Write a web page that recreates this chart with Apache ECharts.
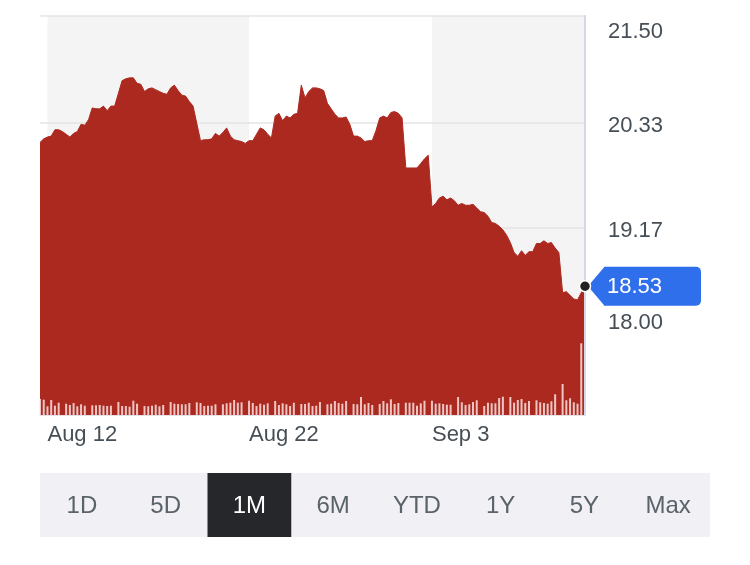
<!DOCTYPE html>
<html>
<head>
<meta charset="utf-8">
<script src="https://cdn.jsdelivr.net/npm/echarts@6/dist/echarts.min.js"></script>
<style>
  html, body { margin: 0; padding: 0; background: #ffffff; }
  #chart { width: 750px; height: 565px; }
</style>
</head>
<body>
<div id="chart"></div>
<script>
// ---- Data ----
const days = ['Aug 12','Aug 13','Aug 14','Aug 15','Aug 16','Aug 19','Aug 20','Aug 21','Aug 22','Aug 23',
              'Aug 26','Aug 27','Aug 28','Aug 29','Aug 30','Sep 3','Sep 4','Sep 5','Sep 6','Sep 9','Sep 10'];
const slotTimes = ['9:30','10:30','11:30','12:30','13:30','14:30','15:30'];

// price, one row per trading day (7 hourly points)
const prices = [
  20.11, 20.15, 20.17, 20.18, 20.25, 20.25, 20.23,
  20.20, 20.17, 20.21, 20.23, 20.31, 20.30, 20.36,
  20.49, 20.48, 20.48, 20.51, 20.46, 20.51, 20.51,
  20.65, 20.79, 20.81, 20.82, 20.82, 20.76, 20.75,
  20.67, 20.70, 20.71, 20.69, 20.67, 20.65, 20.64,
  20.71, 20.74, 20.68, 20.63, 20.62, 20.56, 20.51,
  20.32, 20.13, 20.14, 20.14, 20.15, 20.21, 20.18,
  20.22, 20.27, 20.18, 20.14, 20.13, 20.12, 20.10,
  20.13, 20.13, 20.20, 20.27, 20.25, 20.20, 20.16,
  20.40, 20.43, 20.35, 20.40, 20.38, 20.42, 20.43,
  20.74, 20.60, 20.67, 20.71, 20.71, 20.70, 20.68,
  20.54, 20.48, 20.42, 20.38, 20.38, 20.39, 20.31,
  20.18, 20.18, 20.16, 20.12, 20.13, 20.13, 20.24,
  20.38, 20.40, 20.38, 20.44, 20.45, 20.43, 20.38,
  19.83, 19.83, 19.83, 19.83, 19.88, 19.93, 19.97,
  19.40, 19.44, 19.50, 19.52, 19.48, 19.50, 19.47,
  19.42, 19.44, 19.42, 19.42, 19.43, 19.39, 19.35,
  19.34, 19.30, 19.23, 19.22, 19.19, 19.15, 19.09,
  19.01, 18.90, 18.86, 18.92, 18.87, 18.91, 18.91,
  19.00, 19.00, 19.03, 19.00, 19.01, 18.95, 18.90,
  18.46, 18.47, 18.43, 18.39, 18.38, 18.46, 18.53
];

// volume (thousands), one row per trading day
const volumes = [
  160, 153,  87, 150,  93, 123, null,
  113, 100, 120,  87, 107,  93, null,
   97,  97, 100,  93,  90,  93, null,
  130,  90,  90,  83, 143, 113, null,
   90,  87,  93, 103,  87, 100, null,
  130, 113, 110, 107, 107, 120, null,
  127, 120,  90,  93,  93, 107, null,
  107, 117, 123, 150, 123, 127, null,
  143, 120,  90, 113, 103, 117, null,
  140, 100, 117, 107,  90, 123, null,
  110, 110, 123,  90,  93, 130, null,
  107, 113, 140, 120, 113, 140, null,
  110, 107, 180, 107, 120, 100, null,
  110, 140, 117, 157, 110, 120, null,
  123, 123, 123,  93, 117, 143, null,
  143, 113, 117, 110, 103, 103, null,
  180, 127, 100, 107, 130, 147, null,
   90, 123, 117, 117, 170, 183, null,
  180, 123, 150, 160, 120, 140, null,
  147, 127, 120, 113, 137, 207, null,
  310, 147, 167, 127, 113, 717, 120
];

const yTicks = [21.50, 20.33, 19.17, 18.00];
const xTicks = ['Aug 12 11:30', 'Aug 22 9:30', 'Sep 3 9:30'];
const ranges = ['1D', '5D', '1M', '6M', 'YTD', '1Y', '5Y', 'Max'];
const selectedRange = '1M';
const lastPrice = 18.53;

// ---- Chart ----
const RED = '#ac2920';
const TEXT = '#464e56';
const FONT = 'Liberation Sans, Arial, sans-serif';
const categories = days.flatMap(d => slotTimes.map(t => d + ' ' + t));
const yMax = Math.max(...yTicks), yMin = Math.min(...yTicks);

const chart = echarts.init(document.getElementById('chart'), null, { renderer: 'canvas' });

const bandData = [];
const bandEdges = xTicks.concat([categories[categories.length - 1]]);
for (let i = 0; i + 1 < bandEdges.length; i += 2) {
  bandData.push([{ xAxis: bandEdges[i] }, { xAxis: bandEdges[i + 1] }]);
}

const labelTok = { fontSize: 22, fontFamily: FONT, color: TEXT };

const option = {
  animation: false,
  textStyle: { fontFamily: FONT },
  grid: { left: 40, top: 16, width: 545, height: 399, containLabel: false, outerBoundsMode: 'none' },
  xAxis: {
    type: 'category',
    data: categories,
    boundaryGap: false,
    z: 10,
    axisLine: { show: true, lineStyle: { color: '#e2e2e8', width: 1 } },
    axisTick: { show: false },
    splitLine: { show: false },
    axisLabel: {
      interval: (i, v) => xTicks.includes(v),
      formatter: v => v.split(' ').slice(0, 2).join(' '),
      align: 'left',
      color: TEXT,
      fontSize: 22,
      fontFamily: FONT,
      margin: 9
    }
  },
  yAxis: [
    {
      type: 'value',
      position: 'right',
      min: 17.115,
      max: 21.5,
      axisLine: { show: false },
      axisTick: { show: false, customValues: yTicks },
      splitLine: { show: false },
      axisLabel: {
        customValues: yTicks,
        margin: 23,
        color: TEXT,
        fontSize: 22,
        fontFamily: FONT,
        formatter: v => {
          const s = v.toFixed(2);
          if (Math.abs(v - yMax) < 1e-6) return '{t|' + s + '}';
          if (Math.abs(v - yMin) < 1e-6) return '{u|' + s + '}';
          return '{d|' + s + '}';
        },
        rich: {
          d: Object.assign({ lineHeight: 28, verticalAlign: 'bottom' }, labelTok),
          t: Object.assign({ lineHeight: 54, verticalAlign: 'bottom' }, labelTok),
          u: Object.assign({ lineHeight: 45, verticalAlign: 'top' }, labelTok)
        }
      }
    },
    {
      type: 'value',
      position: 'right',
      min: 0,
      max: 3990,
      z: 10,
      axisLine: { show: true, lineStyle: { color: '#d7d7e5', width: 2 } },
      axisTick: { show: false },
      axisLabel: { show: false },
      splitLine: { show: false }
    }
  ],
  series: [
    {
      type: 'line',
      name: 'bands',
      data: [],
      silent: true,
      z: 1,
      markArea: {
        silent: true,
        z: 1,
        itemStyle: { color: '#f4f4f4' },
        data: bandData
      },
      markLine: {
        silent: true,
        z: 2,
        symbol: ['none', 'none'],
        label: { show: false },
        lineStyle: { color: '#e4e4e4', width: 1.5, type: 'solid' },
        data: yTicks.map(v => ({ yAxis: v }))
      }
    },
    {
      type: 'line',
      name: 'price',
      data: prices,
      yAxisIndex: 0,
      z: 3,
      showSymbol: false,
      silent: true,
      lineStyle: { color: RED, width: 1 },
      areaStyle: { color: RED, opacity: 1, origin: 'start' }
    },
    {
      type: 'bar',
      name: 'volume',
      data: volumes,
      yAxisIndex: 1,
      z: 4,
      silent: true,
      barWidth: 2,
      itemStyle: { color: 'rgba(255,236,236,0.8)' }
    }
  ]
};

chart.setOption(option);

// ---- Last price marker and tag, placed through the chart's own scales ----
const [px, py] = chart.convertToPixel({ seriesIndex: 1 }, [categories.length - 1, lastPrice]);
const BLUE = '#2f6fec';
const graphics = [];

// range buttons
const barLeft = 40, barRight = 710, barTop = 473, barH = 64;
const cellW = (barRight - barLeft) / ranges.length;
graphics.push({ type: 'rect', shape: { x: barLeft, y: barTop, width: barRight - barLeft, height: barH }, style: { fill: '#f0f0f5' }, silent: true });
ranges.forEach((r, i) => {
  const sel = r === selectedRange;
  if (sel) {
    graphics.push({ type: 'rect', shape: { x: barLeft + i * cellW, y: barTop, width: cellW, height: barH }, style: { fill: '#26272b' }, silent: true });
  }
  graphics.push({
    type: 'text', x: barLeft + (i + 0.5) * cellW, y: barTop + barH / 2 + 1, silent: true,
    style: { text: r, fill: sel ? '#ffffff' : '#5b636a', font: '24px ' + FONT, align: 'center', verticalAlign: 'middle' }
  });
});

// tag
graphics.push({ type: 'polygon', shape: { points: [[px + 3, py], [px + 19.5, py - 19.5], [px + 19.5, py + 19.5]] }, style: { fill: BLUE }, silent: true, z: 20 });
graphics.push({ type: 'rect', shape: { x: px + 19, y: py - 19.5, width: 97, height: 39, r: [0, 5, 5, 0] }, style: { fill: BLUE }, silent: true, z: 20 });
graphics.push({ type: 'text', x: px + 22, y: py + 1, silent: true, z: 21,
  style: { text: lastPrice.toFixed(2), fill: '#ffffff', font: '22px ' + FONT, align: 'left', verticalAlign: 'middle' } });
// dot
graphics.push({ type: 'circle', shape: { cx: px, cy: py, r: 5.5 }, style: { fill: '#222222', stroke: '#ffffff', lineWidth: 1.5 }, silent: true, z: 22 });

chart.setOption({ graphic: graphics });
</script>
</body>
</html>
